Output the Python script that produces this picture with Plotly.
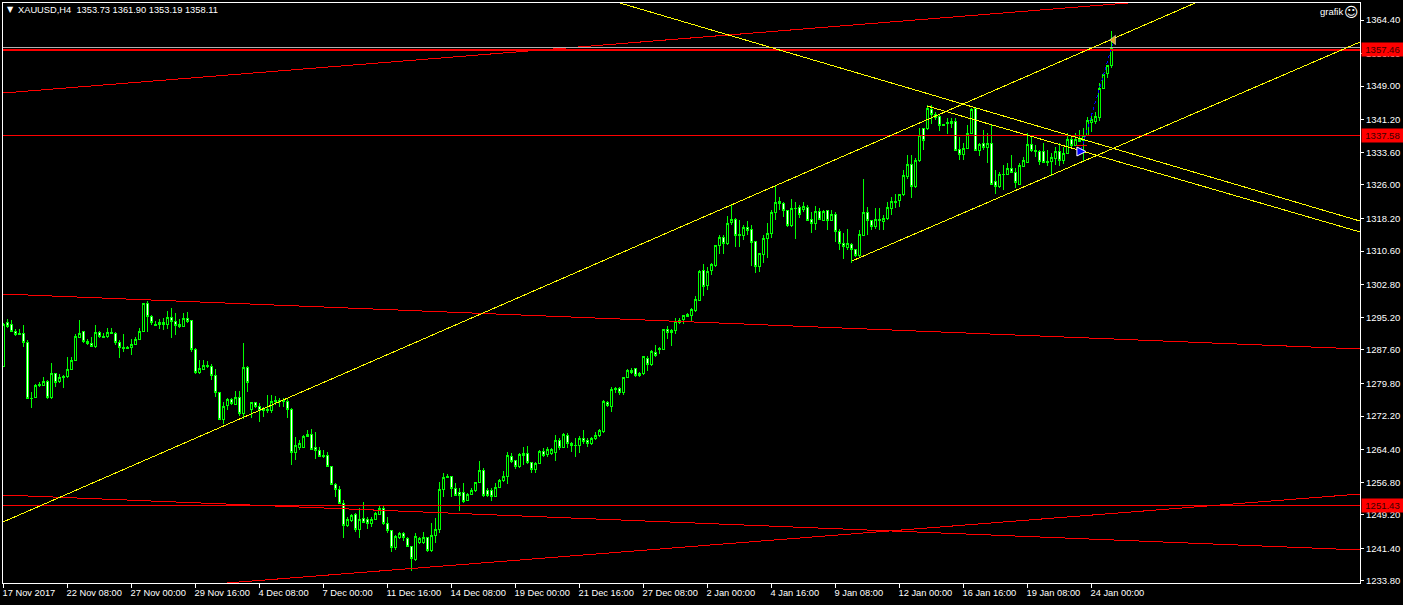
import plotly.graph_objects as go

opens = [
1283.7,1294.0,1293.6,1291.9,1291.5,1291.4,1289.4,1276.3,1276.5,1279.3,
1279.4,1280.3,1276.5,1282.1,1280.2,1281.2,1281.3,1283.1,1285.1,1290.5,
1291.9,1289.5,1289.1,1288.3,1291.7,1290.8,1290.7,1291.4,1291.5,1289.4,
1288.2,1287.9,1288.2,1288.9,1290.0,1291.9,1298.3,1295.4,1293.5,1293.5,
1294.0,1293.5,1295.2,1294.2,1293.6,1293.0,1294.9,1294.4,1287.7,1282.3,
1283.1,1283.8,1283.8,1281.7,1277.7,1271.4,1274.6,1276.1,1274.8,1276.5,
1272.7,1283.5,1273.8,1275.4,1274.5,1273.8,1273.6,1273.5,1275.7,1275.5,
1275.6,1275.6,1273.8,1263.7,1264.8,1264.9,1267.5,1268.0,1264.8,1264.2,
1263.1,1262.9,1260.5,1256.3,1255.0,1251.9,1246.8,1247.8,1249.2,1245.8,
1248.4,1248.2,1247.1,1248.0,1249.2,1250.7,1247.2,1245.5,1241.6,1244.0,
1244.9,1243.7,1241.9,1238.7,1242.7,1242.8,1244.0,1240.9,1244.3,1245.7,
1255.1,1257.9,1258.2,1255.4,1254.4,1254.4,1252.6,1253.9,1254.8,1256.7,
1259.6,1254.9,1254.9,1253.4,1255.5,1257.1,1258.1,1262.8,1261.8,1260.4,
1263.1,1263.5,1261.3,1259.8,1261.2,1264.0,1263.2,1263.5,1263.7,1266.5,
1264.9,1267.7,1265.8,1265.3,1265.4,1267.0,1266.5,1265.8,1266.9,1267.7,
1268.6,1275.4,1274.4,1278.3,1278.6,1277.6,1281.1,1282.8,1283.3,1281.7,
1282.0,1285.6,1284.1,1287.0,1287.8,1287.7,1292.4,1291.6,1292.1,1294.0,
1294.6,1295.3,1295.7,1296.7,1299.2,1306.1,1302.7,1306.0,1307.2,1312.0,
1313.8,1312.3,1317.2,1318.0,1314.3,1314.3,1316.1,1315.7,1312.8,1307.0,
1309.7,1313.6,1314.7,1319.5,1322.1,1321.7,1320.0,1316.5,1320.5,1320.8,
1320.4,1320.8,1318.0,1317.1,1319.9,1317.8,1320.0,1317.7,1319.2,1315.2,
1312.4,1311.5,1312.2,1311.0,1309.5,1314.3,1319.6,1317.7,1316.4,1317.7,
1317.4,1318.1,1320.6,1322.0,1322.3,1323.7,1327.9,1330.8,1325.6,1331.6,
1339.2,1339.2,1343.6,1341.7,1342.0,1340.0,1340.3,1340.3,1340.8,1334.3,
1333.2,1334.4,1338.0,1343.8,1334.1,1335.7,1334.8,1335.7,1326.8,1325.6,
1328.4,1328.4,1329.9,1328.9,1326.2,1330.3,1331.2,1335.4,1334.1,1333.8,
1333.8,1331.2,1331.4,1332.2,1333.8,1331.8,1333.4,1336.5,1335.3,1336.1,
1336.3,1337.5,1340.6,1340.7,1341.7,1348.5,1352.0,1353.73,
]
highs = [
1293.8,1294.7,1294.6,1292.4,1292.4,1293.4,1289.9,1277.9,1279.6,1280.2,
1281.2,1280.6,1284.5,1282.3,1282.1,1281.8,1286.0,1286.0,1291.4,1294.6,
1291.9,1290.1,1290.7,1293.4,1292.1,1291.6,1292.6,1292.6,1291.8,1289.9,
1291.3,1288.5,1290.1,1290.5,1292.8,1298.6,1299.1,1295.7,1294.4,1294.7,
1295.0,1296.7,1297.3,1296.3,1294.7,1296.1,1296.5,1294.6,1288.0,1285.2,
1285.2,1284.9,1284.3,1283.1,1277.9,1275.5,1276.3,1276.5,1278.0,1278.0,
1289.3,1283.9,1275.5,1275.5,1275.2,1274.4,1277.1,1277.1,1276.9,1276.3,
1276.3,1276.3,1274.0,1267.4,1266.6,1267.8,1268.9,1269.1,1268.6,1265.1,
1264.3,1263.9,1260.6,1256.7,1255.8,1252.6,1248.8,1249.5,1249.7,1250.7,
1252.1,1248.8,1248.8,1249.8,1251.3,1251.3,1248.8,1245.7,1244.5,1245.3,
1245.3,1244.1,1241.9,1245.0,1244.1,1245.3,1244.1,1247.2,1248.4,1256.9,
1258.9,1258.6,1258.3,1256.5,1255.4,1256.5,1254.4,1255.4,1256.9,1261.8,
1260.0,1255.4,1255.4,1256.5,1257.5,1259.5,1263.9,1263.5,1262.0,1263.5,
1264.9,1265.2,1261.6,1261.6,1264.3,1264.7,1264.9,1264.7,1267.8,1267.0,
1268.2,1268.2,1266.2,1267.0,1267.6,1268.9,1267.0,1267.4,1268.6,1269.1,
1275.9,1275.8,1278.9,1278.9,1278.9,1281.4,1283.1,1283.5,1283.3,1282.5,
1286.2,1286.2,1287.6,1288.7,1288.2,1292.5,1293.2,1292.4,1295.0,1295.0,
1295.7,1296.1,1297.3,1300.2,1306.2,1307.6,1307.0,1307.8,1312.0,1314.3,
1314.3,1318.8,1321.3,1318.2,1317.8,1316.7,1317.7,1316.7,1312.8,1310.1,
1314.3,1317.1,1320.2,1325.8,1323.3,1322.1,1320.2,1322.7,1322.1,1321.3,
1322.0,1321.3,1319.8,1321.0,1320.6,1320.2,1320.2,1320.2,1319.8,1315.7,
1314.9,1315.7,1312.4,1311.2,1315.5,1327.5,1320.8,1317.8,1320.6,1320.6,
1319.0,1322.1,1323.1,1323.9,1323.9,1329.5,1333.0,1333.0,1332.2,1339.3,
1339.2,1344.6,1344.6,1343.1,1342.5,1340.3,1341.5,1341.5,1341.5,1337.2,
1335.8,1339.9,1343.8,1343.8,1335.7,1338.8,1338.0,1340.3,1329.5,1328.9,
1330.6,1331.2,1333.0,1329.9,1331.0,1332.6,1338.0,1337.6,1335.3,1334.1,
1335.7,1334.1,1333.4,1334.8,1335.7,1334.9,1338.0,1337.6,1338.0,1338.8,
1339.2,1341.9,1342.0,1343.1,1349.8,1352.1,1353.9,1361.90,
]
lows = [
1283.7,1292.6,1291.7,1290.9,1291.1,1288.3,1276.3,1274.1,1276.3,1278.9,
1279.3,1276.1,1276.2,1278.9,1279.8,1278.7,1281.0,1282.9,1285.0,1290.3,
1289.3,1288.7,1288.2,1288.1,1290.3,1290.4,1290.4,1291.2,1288.7,1285.8,
1287.0,1287.7,1286.4,1288.7,1289.9,1291.8,1291.8,1293.4,1293.2,1292.4,
1292.2,1292.4,1290.4,1291.1,1292.6,1292.9,1293.8,1287.2,1282.1,1282.1,
1282.9,1283.5,1280.6,1276.7,1271.3,1270.3,1273.6,1274.8,1274.8,1272.2,
1271.4,1277.9,1271.7,1274.0,1270.9,1272.0,1272.8,1273.0,1274.8,1274.2,
1274.2,1271.7,1260.8,1262.0,1264.3,1264.7,1267.4,1264.3,1262.2,1262.7,
1262.4,1260.4,1256.1,1253.4,1251.9,1243.9,1246.4,1247.6,1245.3,1243.9,
1247.2,1245.8,1246.4,1248.0,1249.2,1246.8,1244.9,1240.6,1241.0,1243.6,
1243.0,1241.6,1236.2,1238.5,1242.4,1242.4,1240.6,1240.6,1242.7,1244.9,
1253.3,1257.7,1253.4,1253.6,1250.1,1252.0,1252.4,1253.8,1254.6,1256.5,
1253.3,1253.4,1252.5,1253.3,1255.4,1256.9,1256.4,1261.2,1259.9,1260.0,
1260.8,1261.0,1259.0,1259.0,1261.0,1262.7,1262.7,1263.1,1261.8,1264.3,
1264.9,1264.7,1263.9,1262.7,1263.5,1265.8,1264.9,1265.5,1266.6,1267.4,
1268.3,1274.4,1273.2,1277.6,1277.1,1277.1,1281.0,1282.0,1281.4,1281.4,
1281.8,1282.8,1283.8,1286.0,1286.6,1287.6,1290.1,1288.5,1291.3,1293.6,
1293.6,1295.2,1294.4,1296.5,1299.0,1300.2,1301.5,1305.0,1307.0,1309.9,
1309.9,1312.0,1316.7,1311.5,1311.5,1313.2,1314.3,1307.1,1305.6,1305.8,
1307.8,1308.9,1313.6,1317.8,1320.2,1318.6,1316.3,1316.3,1313.4,1318.2,
1319.8,1317.5,1314.9,1315.5,1318.0,1317.7,1315.5,1317.5,1312.8,1310.9,
1308.7,1310.9,1307.9,1309.3,1309.3,1314.3,1314.3,1315.5,1315.7,1315.5,
1315.4,1317.8,1319.0,1320.6,1320.9,1323.4,1327.5,1322.9,1325.4,1331.4,
1334.1,1338.9,1340.3,1341.1,1338.6,1339.7,1337.9,1339.2,1334.1,1331.8,
1331.8,1334.3,1338.0,1334.0,1332.7,1334.1,1331.2,1326.0,1323.9,1325.2,
1324.8,1328.3,1328.7,1325.4,1326.0,1330.1,1331.0,1333.7,1332.6,1330.6,
1331.0,1330.3,1328.1,1330.6,1330.4,1330.9,1333.4,1334.9,1335.3,1336.1,
1331.4,1337.4,1338.4,1340.3,1341.0,1348.3,1351.0,1353.19,
]
closes = [
1293.4,1293.0,1291.8,1291.1,1291.2,1289.3,1276.3,1276.4,1279.3,1279.6,
1280.3,1276.5,1282.1,1280.0,1281.2,1281.4,1283.1,1285.2,1290.8,1291.4,
1289.5,1289.1,1288.3,1291.7,1290.7,1290.5,1291.7,1291.7,1289.4,1288.2,
1287.9,1288.2,1288.9,1290.1,1291.9,1298.3,1295.3,1293.9,1293.3,1294.0,
1293.5,1295.2,1294.2,1293.3,1293.0,1294.9,1294.2,1287.7,1282.3,1283.3,
1284.0,1284.0,1281.7,1277.7,1271.4,1274.5,1276.1,1275.2,1276.5,1272.7,
1283.5,1280.0,1275.4,1274.4,1273.6,1273.4,1273.8,1275.5,1275.9,1275.8,
1275.8,1273.8,1263.7,1265.4,1265.7,1267.5,1268.0,1264.5,1264.1,1262.8,
1262.8,1260.4,1256.2,1255.1,1251.9,1246.7,1248.0,1249.1,1245.7,1248.2,
1247.4,1247.1,1248.2,1249.4,1250.7,1247.1,1245.5,1241.6,1244.2,1244.9,
1243.9,1241.8,1239.0,1244.1,1243.7,1244.0,1240.8,1244.4,1245.7,1255.2,
1257.9,1258.2,1255.4,1253.7,1253.7,1252.3,1254.0,1254.9,1256.8,1259.6,
1253.8,1253.8,1253.4,1255.6,1257.2,1258.2,1263.1,1261.6,1260.4,1263.3,
1263.5,1261.3,1259.8,1261.2,1263.9,1263.0,1264.4,1264.4,1266.6,1264.9,
1267.8,1265.7,1265.3,1265.4,1267.0,1266.3,1265.8,1266.9,1267.7,1268.8,
1275.5,1274.7,1278.4,1278.6,1277.6,1281.2,1282.9,1282.3,1281.6,1282.1,
1286.0,1284.2,1287.2,1286.4,1287.9,1292.4,1291.6,1292.2,1294.2,1294.4,
1295.5,1295.9,1296.9,1299.4,1305.9,1302.3,1305.9,1307.4,1312.0,1313.8,
1312.3,1317.1,1318.0,1314.3,1314.5,1316.1,1315.5,1312.6,1307.0,1310.1,
1313.6,1314.7,1319.6,1322.0,1321.6,1320.0,1316.6,1320.6,1320.6,1319.1,
1320.9,1317.7,1317.1,1319.9,1318.0,1319.9,1317.7,1319.2,1315.1,1312.4,
1311.6,1312.3,1310.9,1309.5,1314.5,1319.6,1317.7,1316.3,1318.0,1318.0,
1318.2,1320.8,1322.1,1322.2,1323.7,1328.3,1330.8,1325.6,1331.8,1337.4,
1336.3,1343.7,1342.5,1342.5,1339.8,1339.8,1340.6,1340.8,1334.1,1333.2,
1334.5,1338.0,1343.6,1334.1,1335.5,1334.8,1335.7,1326.2,1325.6,1328.5,
1328.5,1329.9,1328.9,1326.5,1330.6,1331.6,1335.4,1334.0,1333.7,1331.4,
1331.2,1331.5,1332.4,1333.8,1331.8,1333.4,1336.5,1335.3,1336.5,1336.5,
1337.5,1340.9,1341.3,1342.0,1348.5,1351.8,1353.7,1358.11,
]
bars = list(range(len(opens)))

price_ticks = [1364.40,1356.60,1349.00,1341.20,1333.60,1326.00,1318.20,1310.60,1302.80,
               1295.20,1287.60,1279.80,1272.20,1264.40,1256.80,1249.20,1241.40,1233.80]
time_tick_bars = [0,16,32,48,64,80,96,112,128,144,160,176,192,208,224,240,256,272]
time_tick_labels = ["17 Nov 2017","22 Nov 08:00","27 Nov 00:00","29 Nov 16:00","4 Dec 08:00",
                    "7 Dec 00:00","11 Dec 16:00","14 Dec 08:00","19 Dec 00:00","21 Dec 16:00",
                    "27 Dec 08:00","2 Jan 00:00","4 Jan 16:00","9 Jan 08:00","12 Jan 00:00",
                    "16 Jan 16:00","19 Jan 08:00","24 Jan 00:00"]

# trend lines: (bar, price) end points
yellow_lines = [
    ([-0.125, 297.9], [1247.53, 1368.36]),
    ([212.1, 339.125], [1308.3, 1359.28]),
    ([154.1, 339.125], [1368.36, 1317.6]),
    ([230.9, 339.125], [1344.38, 1315.05]),
]
red_lines = [
    ([-0.125, 281.1], [1347.4, 1368.36]),
    ([-0.125, 339.125], [1300.61, 1287.81]),
    ([-0.125, 339.125], [1253.82, 1241.02]),
    ([55.4, 339.125], [1233.3, 1254.05]),
]
level_prices = [1357.46, 1337.58, 1251.43]
level_widths = [2, 1, 1]
bid_price = 1358.11
trade_bars = [269.4, 277.6]
trade_prices = [1334.13, 1359.74]
stop_bars = [268.1, 270.9]
stop_prices = [1335.07, 1335.07]
entry_bar = 270.6
entry_price = 1333.79
ask_bar = 277.5
ask_price = 1359.74

XR = [-0.125, 339.125]
YR = [1233.33, 1368.36]
RED = "#FF0000"
YEL = "#FFFF00"
FONT = "Liberation Sans"

fig = go.Figure()
fig.add_trace(go.Candlestick(
    x=bars, open=opens, high=highs, low=lows, close=closes,
    increasing=dict(line=dict(color="#00FF00", width=1), fillcolor="#000000"),
    decreasing=dict(line=dict(color="#00FF00", width=1), fillcolor="#FFFFFF"),
    showlegend=False, hoverinfo="skip",
))
def line(x, y, color, width=1, dash="solid"):
    fig.add_trace(go.Scatter(x=x, y=y, mode="lines", showlegend=False, hoverinfo="skip",
                             line=dict(color=color, width=width, dash=dash)))
for x, y in red_lines:
    line(x, y, RED)
line(XR, [bid_price, bid_price], "#B0B0B0")
for p, w in zip(level_prices, level_widths):
    line(XR, [p, p], RED, w)
for x, y in yellow_lines:
    line(x, y, YEL)
line(trade_bars, trade_prices, "#0000FF", 1, "dot")
line(stop_bars, stop_prices, RED, 1)
fig.add_trace(go.Scatter(x=[entry_bar], y=[entry_price], mode="markers", showlegend=False,
                         hoverinfo="skip",
                         marker=dict(symbol="arrow-right", size=9, color="#0000FF",
                                     line=dict(color="#FFFFFF", width=1))))
fig.add_trace(go.Scatter(x=[ask_bar], y=[ask_price], mode="markers", showlegend=False,
                         hoverinfo="skip",
                         marker=dict(symbol="triangle-left", size=8, color="#DAA520",
                                     line=dict(color="#F0F0F0", width=0.5))))

anns = []
def label(text, px, py, size=9.3, color="#FFFFFF", family=FONT):
    anns.append(dict(text=text, xref="paper", yref="paper", x=px, y=py, xanchor="left", yanchor="middle",
                     showarrow=False, font=dict(family=family, size=size, color=color), borderpad=0))
W, H = 1357.0, 580.0
def pos(x, y):
    return (x - 3) / W, (583 - y) / H
label("▼", *pos(6, 10), size=8, family="DejaVu Sans")
label("XAUUSD,H4\u00a0\u00a01353.73 1361.90 1353.19 1358.11", *pos(17, 10))
label("grafik", *pos(1319, 12), size=9.5)
label("☺", *pos(1343, 12), size=14, family="DejaVu Sans")
for p in level_prices:
    anns.append(dict(text=f"{p:.2f}", xref="paper", yref="y", x=1, y=p, xanchor="left", yanchor="middle",
                     xshift=1, showarrow=False, bgcolor=RED, width=41, height=13, borderpad=0,
                     align="center", font=dict(family=FONT, size=9.5, color="#3A0000")))

fig.update_layout(
    width=1403, height=605, autosize=False,
    paper_bgcolor="#000000", plot_bgcolor="#000000",
    margin=dict(l=3, r=43, t=3, b=22, pad=0, autoexpand=False),
    showlegend=False, annotations=anns,
    font=dict(family=FONT, size=9.5, color="#FFFFFF"),
    xaxis=dict(range=XR, fixedrange=True, rangeslider=dict(visible=False), showgrid=False, zeroline=False,
               showline=True, linecolor="#FFFFFF", linewidth=1, mirror=True, automargin=False,
               ticks="outside", ticklen=4, tickcolor="#FFFFFF", tickwidth=1, tickangle=0,
               tickmode="array", tickvals=time_tick_bars, ticktext=time_tick_labels,
               ticklabelposition="outside right", ticklabelshift=-2, ticklabelstandoff=1,
               tickfont=dict(family=FONT, size=9.3, color="#FFFFFF")),
    yaxis=dict(range=YR, fixedrange=True, side="right", showgrid=False, zeroline=False,
               showline=True, linecolor="#FFFFFF", linewidth=1, mirror=True, automargin=False,
               ticks="outside", ticklen=3, tickcolor="#FFFFFF", tickwidth=1,
               tickmode="array", tickvals=price_ticks, tickformat=".2f",
               tickfont=dict(family=FONT, size=9.5, color="#FFFFFF")),
)
post = """
document.body.style.margin='0';document.body.style.background='#000';
document.documentElement.style.overflow='hidden';
var s=document.createElement('style');
s.textContent='.js-line{shape-rendering:crispEdges} path.box{shape-rendering:crispEdges}';
document.head.appendChild(s);
"""
fig.write_html("out.html", config=dict(displayModeBar=False), post_script=post)
